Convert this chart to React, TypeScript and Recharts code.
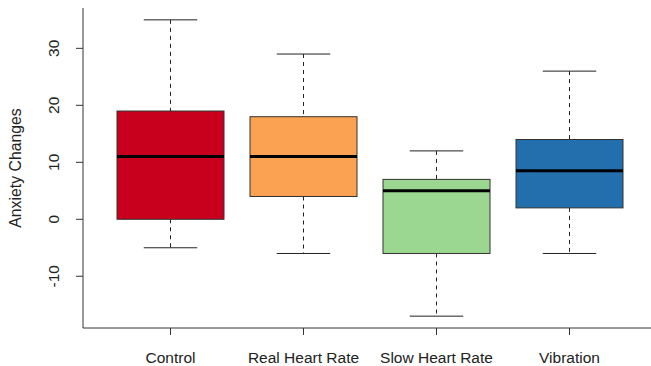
import { ComposedChart, Bar, XAxis, YAxis } from 'recharts';

const groups = ['Control', 'Real Heart Rate', 'Slow Heart Rate', 'Vibration'];
const lowerWhisker = [-5, -6, -17, -6];
const lowerQuartile = [0, 4, -6, 2];
const medians = [11, 11, 5, 8.5];
const upperQuartile = [19, 18, 7, 14];
const upperWhisker = [35, 29, 12, 26];
const boxColors = ['#c9001d', '#fba152', '#9cd791', '#236fad'];
const yTicks = [-10, 0, 10, 20, 30];

const data = groups.map((name, i) => ({
  name,
  range: [lowerWhisker[i], upperWhisker[i]],
  q1: lowerQuartile[i],
  median: medians[i],
  q3: upperQuartile[i],
  fill: boxColors[i],
}));

const FONT = '"Liberation Sans", Arial, sans-serif';
const INK = '#222';

// draws one box-and-whisker from the whisker range bar that recharts lays out
const BoxShape = (props: any) => {
  const { x, y, width, height, payload } = props;
  const top = Math.min(y, y + height);
  const h = Math.abs(height);
  const [lo, hi] = payload.range;
  const py = (v: number) => top + ((hi - v) / (hi - lo)) * h;
  const cx = x + width / 2;
  const capHalf = width / 4;
  const yQ1 = py(payload.q1);
  const yQ3 = py(payload.q3);
  const yMed = py(payload.median);
  const yLo = py(lo);
  const yHi = py(hi);
  return (
    <g>
      <line x1={cx} x2={cx} y1={yHi} y2={yQ3} stroke={INK} strokeDasharray="4 4" />
      <line x1={cx} x2={cx} y1={yQ1} y2={yLo} stroke={INK} strokeDasharray="4 4" />
      <line x1={cx - capHalf} x2={cx + capHalf} y1={yHi} y2={yHi} stroke={INK} />
      <line x1={cx - capHalf} x2={cx + capHalf} y1={yLo} y2={yLo} stroke={INK} />
      <rect x={x} y={yQ3} width={width} height={yQ1 - yQ3} fill={payload.fill} stroke="#333" />
      <line x1={x} x2={x + width} y1={yMed} y2={yMed} stroke="#000" strokeWidth={3} />
    </g>
  );
};

const YTick = (props: any) => {
  const { x, y, payload } = props;
  const tx = x - 15;
  return (
    <text x={tx} y={y} transform={`rotate(-90 ${tx} ${y})`} textAnchor="middle"
      fontFamily={FONT} fontSize={15.5} fill={INK}>
      {payload.value}
    </text>
  );
};

const XTick = (props: any) => {
  const { x, y, payload } = props;
  return (
    <text x={x} y={y + 26} textAnchor="middle" fontFamily={FONT} fontSize={15.5} fill={INK}>
      {payload.value}
    </text>
  );
};

const YLabel = (props: any) => {
  const vb = props.viewBox;
  const lx = vb.x + 21;
  const ly = vb.y + vb.height / 2;
  return (
    <text x={lx} y={ly} transform={`rotate(-90 ${lx} ${ly})`} textAnchor="middle"
      fontFamily={FONT} fontSize={15.8} fill={INK}>
      Anxiety Changes
    </text>
  );
};

export default function App() {
  return (
    <div style={{ position: 'fixed', left: 0, top: 0, width: 651, height: 366, overflow: 'hidden', background: '#fff' }}>
      <ComposedChart width={660} height={366} data={data} margin={{ top: 8, right: 3, bottom: 0, left: 0 }}>
        <XAxis
          dataKey="name"
          height={38}
          padding={{ left: 21, right: 21 }}
          tickSize={7}
          stroke="#333"
          tick={<XTick />}
          interval={0}
        />
        <XAxis
          xAxisId="top"
          dataKey="name"
          orientation="top"
          height={0}
          tick={false}
          tickLine={false}
          stroke="#333"
        />
        <YAxis
          width={83}
          type="number"
          domain={[-19.08, 37.08]}
          ticks={yTicks}
          tickSize={7}
          stroke="#333"
          tick={<YTick />}
          allowDataOverflow
          label={{ content: <YLabel /> }}
        />
        <Bar dataKey="range" barSize={107} shape={<BoxShape />} isAnimationActive={false} />
      </ComposedChart>
    </div>
  );
}
